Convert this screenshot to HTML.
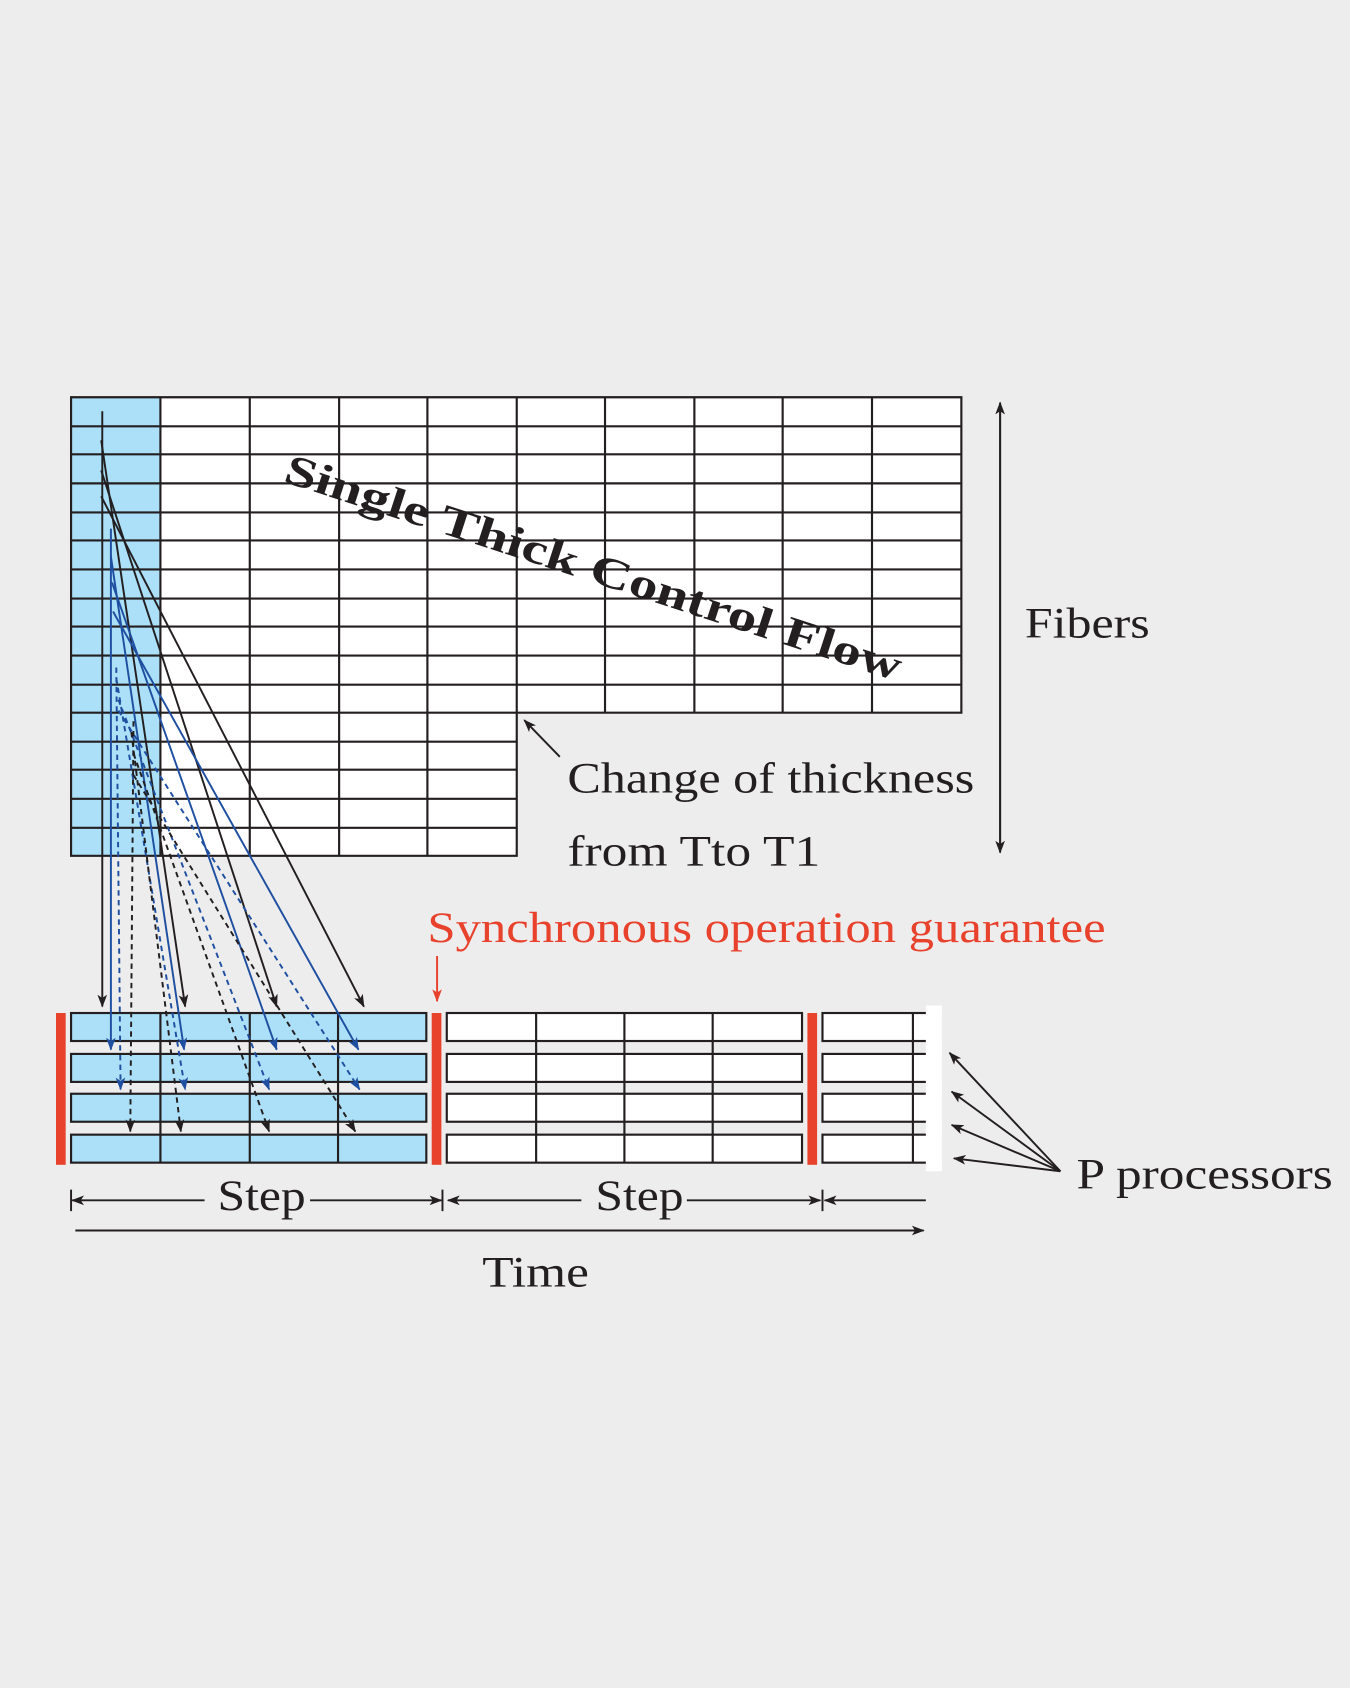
<!DOCTYPE html>
<html><head><style>
html,body{margin:0;padding:0;background:#ededed;}
svg{display:block}
text{font-family:"Liberation Serif",serif;fill:#231f20}
</style></head><body>
<svg width="1350" height="1688" viewBox="0 0 1254 1568" xmlns="http://www.w3.org/2000/svg">
<defs>
<marker id="ak" markerWidth="12" markerHeight="9" refX="11" refY="4.5" orient="auto" markerUnits="userSpaceOnUse"><path d="M0,0 L12,4.5 L0,9 L3,4.5 z" fill="#231f20"/></marker>
<marker id="ab" markerWidth="12" markerHeight="9" refX="11" refY="4.5" orient="auto" markerUnits="userSpaceOnUse"><path d="M0,0 L12,4.5 L0,9 L3,4.5 z" fill="#1f4fa0"/></marker>
<marker id="ar" markerWidth="12" markerHeight="9" refX="11" refY="4.5" orient="auto" markerUnits="userSpaceOnUse"><path d="M0,0 L12,4.5 L0,9 L3,4.5 z" fill="#e8412c"/></marker>
</defs>
<rect width="1254" height="1568" fill="#ededed"/>
<rect x="66" y="369" width="827" height="293" fill="#fff"/>
<rect x="66" y="662" width="414" height="133" fill="#fff"/>
<rect x="66" y="369" width="83" height="426" fill="#abe0f8"/>
<g stroke="#231f20" stroke-width="2" fill="none">
<path d="M66,369 H893 V662 H480 V795 H66 Z"/>
<path d="M149,369V795 M232,369V795 M315,369V795 M397,369V795 M480,369V662 M562,369V662 M645,369V662 M727,369V662 M810,369V662"/>
<path d="M66,396H893 M66,422H893 M66,449H893 M66,476H893 M66,502H893 M66,529H893 M66,556H893 M66,582H893 M66,609H893 M66,636H893"/>
<path d="M66,662H480 M66,689H480 M66,715H480 M66,742H480 M66,769H480"/>
</g>
<text transform="translate(262,447) rotate(18)" font-size="40" font-weight="bold" textLength="600" lengthAdjust="spacingAndGlyphs">Single Thick Control Flow</text>
<g stroke="#231f20" stroke-width="2">
<g fill="#abe0f8">
<rect x="66" y="941" width="330" height="26"/><rect x="66" y="979" width="330" height="26"/>
<rect x="66" y="1016" width="330" height="26"/><rect x="66" y="1054" width="330" height="26"/>
</g>
<path d="M149,941V1080 M232,941V1080 M314,941V1080" fill="none"/>
<g fill="#fff">
<rect x="415" y="941" width="330" height="26"/><rect x="415" y="979" width="330" height="26"/>
<rect x="415" y="1016" width="330" height="26"/><rect x="415" y="1054" width="330" height="26"/>
<rect x="764" y="941" width="110" height="26"/><rect x="764" y="979" width="110" height="26"/>
<rect x="764" y="1016" width="110" height="26"/><rect x="764" y="1054" width="110" height="26"/>
</g>
<path d="M498,941V1080 M580,941V1080 M662,941V1080 M848,941V1080" fill="none"/>
</g>
<rect x="860" y="934" width="15" height="154" fill="#fff"/>
<rect x="52" y="941" width="9" height="141" fill="#e8412c"/>
<rect x="401" y="941" width="9" height="141" fill="#e8412c"/>
<rect x="750" y="941" width="9" height="141" fill="#e8412c"/>
<g fill="none" stroke-width="1.8">
<g stroke="#231f20" marker-end="url(#ak)">
<path d="M95,382 V935"/>
<path d="M94,409 L172,935"/>
<path d="M94,437 L257,935"/>
<path d="M94,461 L338,935"/>
</g>
<g stroke="#1f4fa0" marker-end="url(#ab)">
<path d="M103,491 V975"/>
<path d="M103,517 L171,975"/>
<path d="M104,541 L257,975"/>
<path d="M105,568 L333,975"/>
</g>
<g stroke="#1f4fa0" stroke-dasharray="5,4" marker-end="url(#ab)">
<path d="M108,620 L112,1012"/>
<path d="M108,630 L172,1012"/>
<path d="M110,650 L250,1012"/>
<path d="M110,660 L334,1012"/>
</g>
<g stroke="#231f20" stroke-dasharray="5,4" marker-end="url(#ak)">
<path d="M124,670 L121,1051"/>
<path d="M122,680 L168,1051"/>
<path d="M124,700 L250,1051"/>
<path d="M124,720 L330,1051"/>
</g>
</g>
<g stroke="#231f20" stroke-width="1.8" fill="none">
<path d="M929,376 V792" marker-end="url(#ak)"/>
<path d="M929,790 V374" marker-end="url(#ak)"/>
<path d="M520,703 L487,669" marker-end="url(#ak)"/>
<path d="M66,1105V1125 M411,1105V1125 M764,1105V1125"/>
<path d="M190,1115 H67" marker-end="url(#ak)"/>
<path d="M288,1115 H410" marker-end="url(#ak)"/>
<path d="M540,1115 H416" marker-end="url(#ak)"/>
<path d="M638,1115 H762" marker-end="url(#ak)"/>
<path d="M860,1115 H766" marker-end="url(#ak)"/>
<path d="M70,1143 H858" marker-end="url(#ak)"/>
<path d="M985,1088 L882,978" marker-end="url(#ak)"/>
<path d="M985,1088 L884,1014" marker-end="url(#ak)"/>
<path d="M985,1088 L884,1045" marker-end="url(#ak)"/>
<path d="M985,1088 L886,1076" marker-end="url(#ak)"/>
</g>
<path d="M406,888 V930" stroke="#e8412c" stroke-width="1.8" marker-end="url(#ar)"/>
<text x="952" y="592" font-size="40" textLength="116" lengthAdjust="spacingAndGlyphs">Fibers</text>
<text x="527" y="736" font-size="40" textLength="378" lengthAdjust="spacingAndGlyphs">Change of thickness</text>
<text x="527" y="804" font-size="40" textLength="235" lengthAdjust="spacingAndGlyphs">from Tto T1</text>
<text x="397" y="875" font-size="40" style="fill:#e8412c" textLength="630" lengthAdjust="spacingAndGlyphs">Synchronous operation guarantee</text>
<text x="202" y="1124" font-size="40" textLength="82" lengthAdjust="spacingAndGlyphs">Step</text>
<text x="553" y="1124" font-size="40" textLength="82" lengthAdjust="spacingAndGlyphs">Step</text>
<text x="448" y="1195" font-size="40" textLength="99" lengthAdjust="spacingAndGlyphs">Time</text>
<text x="1000" y="1104" font-size="40" textLength="238" lengthAdjust="spacingAndGlyphs">P processors</text>
</svg>
</body></html>
